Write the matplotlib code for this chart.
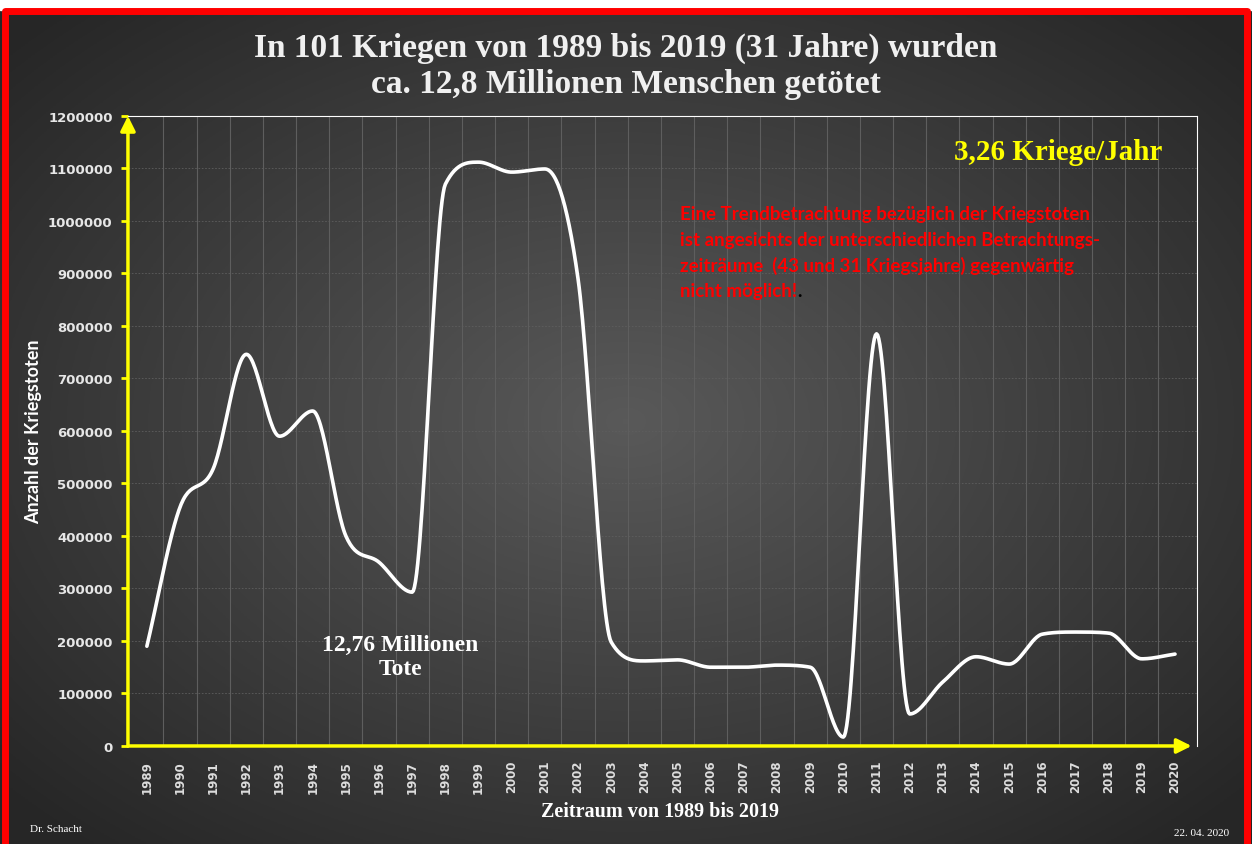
import numpy as np
import matplotlib.pyplot as plt

years = list(range(1989, 2021))
tote = [190000, 455000, 528000, 746000, 590000, 638000, 400000, 350000,
        293000, 1070000, 1112000, 1093000, 1099000, 890000, 198000, 162000,
        164000, 150000, 150000, 154000, 150000, 17000, 785000, 61000,
        122000, 170000, 156000, 213000, 217000, 215000, 166000, 175000]
y_ticks = list(range(0, 1200001, 100000))


def smooth(xs, ys, n=30):
    # monotone kubische Kurve (aehnlich der geglaetteten Linie in Excel)
    xs = np.asarray(xs, float)
    ys = np.asarray(ys, float)
    h = np.diff(xs)
    d = np.diff(ys) / h
    m = np.zeros_like(ys)
    m[0], m[-1] = d[0], d[-1]
    for i in range(1, len(ys) - 1):
        if d[i - 1] * d[i] <= 0:
            m[i] = 0
        else:
            m[i] = (d[i - 1] + d[i]) / 2
            lim = 3 * min(abs(d[i - 1]), abs(d[i]))
            m[i] = np.sign(m[i]) * min(abs(m[i]), lim)
    ox, oy = [], []
    t = np.linspace(0, 1, n, endpoint=False)
    for i in range(len(xs) - 1):
        h00 = 2 * t**3 - 3 * t**2 + 1
        h10 = t**3 - 2 * t**2 + t
        h01 = -2 * t**3 + 3 * t**2
        h11 = t**3 - t**2
        ox.extend(xs[i] + t * h[i])
        oy.extend(h00 * ys[i] + h10 * h[i] * m[i] + h01 * ys[i + 1] + h11 * h[i] * m[i + 1])
    ox.append(xs[-1])
    oy.append(ys[-1])
    return np.array(ox), np.array(oy)


fig = plt.figure(figsize=(12.52, 8.45), dpi=100)

# Hintergrund mit radialem Verlauf
bg = fig.add_axes([0, 0, 1, 1], zorder=0)
gx, gy = np.meshgrid(np.linspace(-1, 1, 400), np.linspace(-1, 1, 300))
r = np.sqrt(gx ** 2 + gy ** 2)
shade = np.clip(0.35 - 0.15 * r, 0.15, 0.35)
bg.imshow(np.dstack([shade] * 3), extent=[0, 1, 0, 1], aspect='auto')
bg.set_xlim(0, 1)
bg.set_ylim(0, 1)
bg.axis('off')
# weisser Rand oben, roter Rahmen
bg.add_patch(plt.Rectangle((0, 0.987), 1, 0.013, color='white', zorder=2))
bg.plot([0.004, 0.004, 0.996, 0.996], [0, 0.986, 0.986, 0], color='red', lw=5, zorder=3)

ax = fig.add_axes([0.1022, 0.1160, 0.8538, 0.7456], zorder=1)
ax.set_facecolor('none')
ax.set_xlim(1988.43, 2020.66)
ax.set_ylim(0, 1200000)

sx, sy = smooth(years, tote)
ax.plot(sx, sy, color='white', lw=2.6, solid_capstyle='round', zorder=4)

# Gitter
for yr in years[:-1]:
    ax.axvline(yr + 0.5, color='#5e5e5e', lw=0.8, zorder=1)
for v in y_ticks[1:]:
    ax.axhline(v, color='#5e5e5e', lw=0.6, ls=(0, (2, 2)), zorder=1)

for s in ['top', 'right']:
    ax.spines[s].set_color('white')
    ax.spines[s].set_linewidth(0.8)
for s in ['left', 'bottom']:
    ax.spines[s].set_visible(False)

# gelbe Achsen mit Pfeilen
ax.annotate('', xy=(0, 1.0), xytext=(0, 0), xycoords='axes fraction',
            arrowprops=dict(arrowstyle='-|>', color='yellow', lw=2.5,
                            mutation_scale=22, shrinkA=0, shrinkB=0), zorder=5)
ax.annotate('', xy=(0.995, 0), xytext=(0, 0), xycoords='axes fraction',
            arrowprops=dict(arrowstyle='-|>', color='yellow', lw=2.5,
                            mutation_scale=22, shrinkA=0, shrinkB=0), zorder=5)

ax.set_yticks(y_ticks)
ax.set_yticklabels([str(v) for v in y_ticks], fontsize=9.5, fontweight='bold',
                   color='#e6e6e6')
ax.tick_params(axis='y', length=5, width=2, color='yellow', pad=6)
ax.set_xticks(years)
ax.set_xticklabels([str(y) for y in years], rotation=90, fontsize=8.5,
                   fontweight='bold', color='#dddddd')
ax.tick_params(axis='x', length=0, pad=10)

ax.set_ylabel('Anzahl der Kriegstoten', fontsize=13, fontweight='bold',
              family='Lato', color='white', labelpad=4)

fig.text(0.5, 0.943, 'In 101 Kriegen von 1989 bis 2019 (31 Jahre) wurden',
         ha='center', va='center', fontsize=24, fontweight='bold',
         family='Liberation Serif', color='#f0f0f0')
fig.text(0.5, 0.900, 'ca. 12,8 Millionen Menschen getötet',
         ha='center', va='center', fontsize=24, fontweight='bold',
         family='Liberation Serif', color='#f0f0f0')

fig.text(0.845, 0.820, '3,26 Kriege/Jahr', ha='center', va='center',
         fontsize=21, fontweight='bold', family='Liberation Serif', color='yellow')

red_lines = ['Eine Trendbetrachtung bezüglich der Kriegstoten',
             'ist angesichts der unterschiedlichen Betrachtungs-',
             'zeiträume  (43 und 31 Kriegsjahre) gegenwärtig',
             'nicht möglich!']
red_txt = []
for i, line in enumerate(red_lines):
    red_txt.append(fig.text(0.543, 0.746 - i * 0.0305, line, ha='left', va='center',
                            fontsize=13.5, fontweight='bold', family='Lato', color='red'))
fig.canvas.draw()
bb = red_txt[-1].get_window_extent().transformed(fig.transFigure.inverted())
fig.text(bb.x1, 0.655, '.', ha='left', va='center', fontsize=13.5,
         fontweight='bold', family='Lato', color='black')

fig.text(0.320, 0.222, '12,76 Millionen\nTote', ha='center', va='center',
         fontsize=17, fontweight='bold', family='Liberation Serif',
         color='white', linespacing=1.15)

fig.text(0.527, 0.039, 'Zeitraum von 1989 bis 2019', ha='center', va='center',
         fontsize=14.5, fontweight='bold', family='Liberation Serif', color='white')
fig.text(0.024, 0.018, 'Dr. Schacht', ha='left', va='center', fontsize=8,
         family='Liberation Serif', color='white')
fig.text(0.982, 0.014, '22. 04. 2020', ha='right', va='center', fontsize=8,
         family='Liberation Serif', color='white')

fig.savefig('out.png', dpi=100)
